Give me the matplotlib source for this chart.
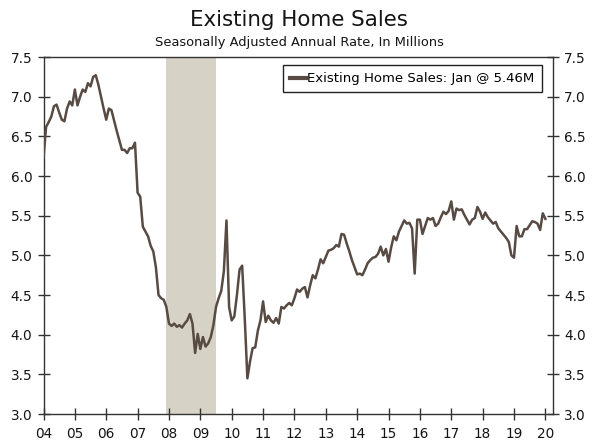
import numpy as np
import matplotlib
matplotlib.use("Agg")
import matplotlib.pyplot as plt

# monthly existing home sales, SAAR millions, Jan 2004 .. Jan 2020
y2004 = [6.23, 6.62, 6.68, 6.75, 6.88, 6.90, 6.80, 6.71, 6.69, 6.85, 6.94, 6.89]
y2005 = [7.09, 6.89, 7.00, 7.09, 7.06, 7.17, 7.13, 7.25, 7.27, 7.15, 7.00, 6.85]
y2006 = [6.71, 6.85, 6.83, 6.70, 6.57, 6.45, 6.33, 6.33, 6.29, 6.35, 6.35, 6.42]
y2007 = [5.79, 5.74, 5.36, 5.30, 5.24, 5.12, 5.05, 4.85, 4.50, 4.46, 4.44, 4.35]
y2008 = [4.14, 4.11, 4.14, 4.10, 4.12, 4.09, 4.14, 4.18, 4.26, 4.14, 3.77, 4.01]
y2009 = [3.82, 3.97, 3.85, 3.89, 3.97, 4.12, 4.35, 4.46, 4.55, 4.80, 5.44, 4.35]
y2010 = [4.18, 4.23, 4.50, 4.82, 4.87, 4.20, 3.45, 3.66, 3.83, 3.84, 4.05, 4.18]
y2011 = [4.42, 4.16, 4.24, 4.18, 4.15, 4.21, 4.14, 4.35, 4.33, 4.37, 4.40, 4.37]
y2012 = [4.46, 4.57, 4.54, 4.58, 4.60, 4.47, 4.62, 4.75, 4.71, 4.82, 4.95, 4.90]
y2013 = [4.98, 5.06, 5.07, 5.09, 5.13, 5.11, 5.27, 5.26, 5.15, 5.05, 4.94, 4.85]
y2014 = [4.76, 4.77, 4.75, 4.82, 4.90, 4.94, 4.97, 4.98, 5.02, 5.11, 5.00, 5.08]
y2015 = [4.92, 5.10, 5.24, 5.19, 5.30, 5.37, 5.44, 5.40, 5.41, 5.34, 4.77, 5.45]
y2016 = [5.45, 5.27, 5.37, 5.47, 5.45, 5.47, 5.37, 5.40, 5.48, 5.55, 5.52, 5.56]
y2017 = [5.68, 5.45, 5.59, 5.57, 5.58, 5.51, 5.45, 5.39, 5.45, 5.47, 5.61, 5.55]
y2018 = [5.46, 5.54, 5.48, 5.44, 5.40, 5.42, 5.34, 5.30, 5.26, 5.22, 5.17, 5.00]
y2019 = [4.97, 5.37, 5.24, 5.24, 5.33, 5.33, 5.38, 5.43, 5.42, 5.40, 5.32, 5.53]
y2020 = [5.46]

sales = (y2004 + y2005 + y2006 + y2007 + y2008 + y2009 + y2010 + y2011 + y2012
         + y2013 + y2014 + y2015 + y2016 + y2017 + y2018 + y2019 + y2020)
dates = 2004 + np.arange(len(sales)) / 12.0

recession_start = 2007 + 11 / 12.0
recession_end = 2009 + 6 / 12.0

year_ticks = list(range(2004, 2021))
year_labels = ["%02d" % (y % 100) for y in year_ticks]
value_ticks = [3.0, 3.5, 4.0, 4.5, 5.0, 5.5, 6.0, 6.5, 7.0, 7.5]

line_col = "#574b43"
rec_col = "#d6d3c6"
txt_col = "#141414"

fig = plt.figure(figsize=(6.0, 4.42), dpi=100)
ax = fig.add_axes([0.0725, 0.0633, 0.849, 0.8077])

ax.axvspan(recession_start, recession_end, color=rec_col, lw=0, zorder=1)
ax.plot(dates, sales, color=line_col, lw=1.8, zorder=3,
        label="Existing Home Sales: Jan @ 5.46M")

ax.set_xlim(2004, 2020.24)
ax.set_ylim(3.0, 7.5)
ax.set_xticks(year_ticks)
ax.set_xticklabels(year_labels)
ax.set_yticks(value_ticks)
ax.set_yticklabels(["%.1f" % v for v in value_ticks])

ax.tick_params(axis="both", direction="inout", length=8, width=1,
               colors="#333333", labelcolor=txt_col, labelsize=9.8)
ax.tick_params(axis="y", right=True, labelright=True, pad=4)
ax.tick_params(axis="x", pad=5)
for s in ax.spines.values():
    s.set_color("#333333")
    s.set_linewidth(1.0)

leg = ax.legend(loc="upper right", fontsize=9.5, handlelength=1.2,
                handletextpad=0.1, borderpad=0.55, fancybox=False,
                framealpha=1, edgecolor="#222222", borderaxespad=0,
                bbox_to_anchor=(0.978, 0.978))
leg.get_frame().set_linewidth(1.0)
for h in leg.get_lines():
    h.set_linewidth(3.0)

fig.text(0.4983, 0.955, "Existing Home Sales", ha="center", va="center",
         fontsize=15.4, color=txt_col)
fig.text(0.4983, 0.903, "Seasonally Adjusted Annual Rate, In Millions",
         ha="center", va="center", fontsize=9.4, color=txt_col)

fig.savefig("out.png", dpi=100)
